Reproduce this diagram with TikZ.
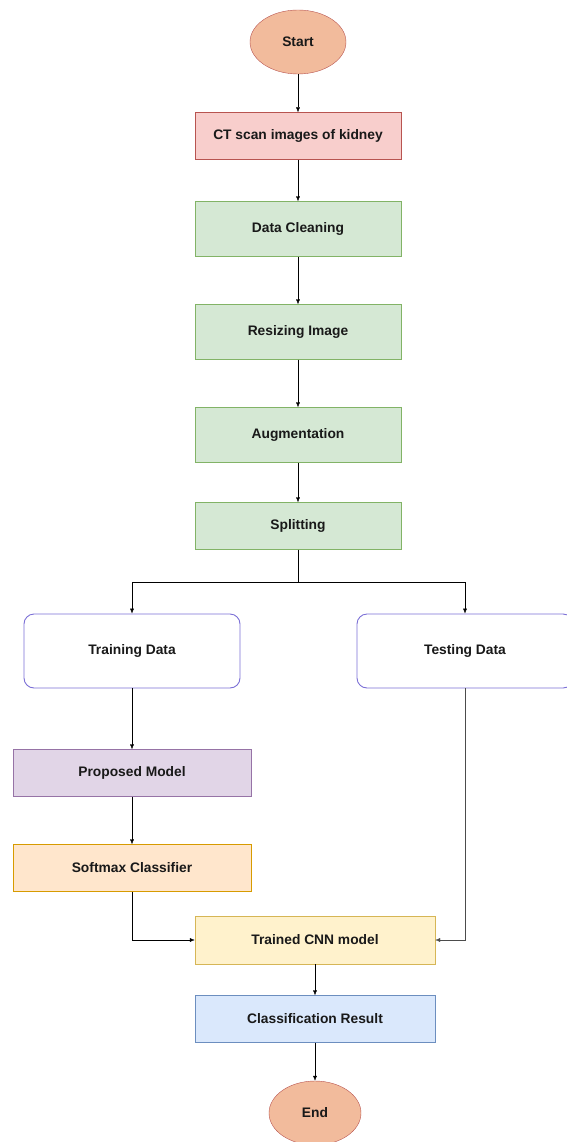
\documentclass[tikz,border=0pt]{standalone}
\usepackage{fontspec}
\setmainfont{Liberation Sans}
\usepackage{tikz}
\usetikzlibrary{shapes, arrows.meta, positioning}
\definecolor{termfill}{HTML}{F2BB9C}
\definecolor{termline}{HTML}{B85450}
\definecolor{redfill}{HTML}{F8CECC}
\definecolor{redline}{HTML}{B85450}
\definecolor{greenfill}{HTML}{D5E8D4}
\definecolor{greenline}{HTML}{82B366}
\definecolor{datline}{HTML}{7B6FD6}
\definecolor{purplefill}{HTML}{E1D5E7}
\definecolor{purpleline}{HTML}{9673A6}
\definecolor{orangefill}{HTML}{FFE6CC}
\definecolor{orangeline}{HTML}{D79B00}
\definecolor{yellowfill}{HTML}{FFF2CC}
\definecolor{yellowline}{HTML}{D6B656}
\definecolor{bluefill}{HTML}{DAE8FC}
\definecolor{blueline}{HTML}{6C8EBF}
\tikzstyle{every node}=[font=\fontsize{13.8}{16}\selectfont\bfseries, text=black!90]
\tikzstyle{term}=[draw=termline,fill=termfill,ellipse,minimum width=96pt,minimum height=64pt]
\tikzstyle{block}=[draw,rectangle,minimum width=206pt,minimum height=50pt]
\tikzstyle{datbox}=[draw=datline,fill=white,rectangle,rounded corners=10pt,line width=0.9pt,minimum width=216pt,minimum height=74pt]
\tikzstyle{wide}=[draw,rectangle,minimum width=238pt,minimum height=47pt]

\begin{document}
\begin{tikzpicture}[node distance=94pt,>={Latex[length=5pt,width=4pt]}]
    \useasboundingbox (0pt,0pt) rectangle (566pt,-1142pt);
    \node[term] (start) at (298pt,-42pt) {Start};
    \node[block, draw=redline, fill=redfill, below of=start, minimum height=47pt] (ct) {CT scan images of kidney};
    \node[block, draw=greenline, fill=greenfill, below of=ct, node distance=93pt, minimum height=55pt] (clean) {Data Cleaning};
    \node[block, draw=greenline, fill=greenfill, below of=clean, node distance=103pt, minimum height=55pt] (resize) {Resizing Image};
    \node[block, draw=greenline, fill=greenfill, below of=resize, node distance=103pt, minimum height=55pt] (aug) {Augmentation};
    \node[block, draw=greenline, fill=greenfill, below of=aug, node distance=91pt, minimum height=47pt] (split) {Splitting};
    \coordinate[below of=split, node distance=56pt] (fork);
    \node[datbox] (train) at (132pt,-651pt) {Training Data};
    \node[datbox] (test) at (465pt,-651pt) {Testing Data};
    \node[wide, draw=purpleline, fill=purplefill, below of=train, node distance=122pt] (model) {Proposed Model};
    \node[wide, draw=orangeline, fill=orangefill, below of=model, node distance=95pt] (soft) {Softmax Classifier};
    \node[wide, draw=yellowline, fill=yellowfill, minimum width=240pt, minimum height=48pt] (cnn) at (315pt,-940pt) {Trained CNN model};
    \node[wide, draw=blueline, fill=bluefill, minimum width=240pt, below of=cnn, node distance=79pt] (res) {Classification Result};
    \node[term, below of=res, node distance=94pt, minimum width=92pt] (end) {End};
    \draw[->] (start) -- (ct);
    \draw[->] (ct) -- (clean);
    \draw[->] (clean) -- (resize);
    \draw[->] (resize) -- (aug);
    \draw[->] (aug) -- (split);
    \draw (split) -- (fork);
    \draw[->] (fork) -| (train);
    \draw[->] (fork) -| (test);
    \draw[->] (train) -- (model);
    \draw[->] (model) -- (soft);
    \draw[->] (soft) |- (cnn);
    \draw[->, black!70] (test) |- (cnn);
    \draw[->] (cnn) -- (res);
    \draw[->] (res) -- (end);
\end{tikzpicture}
\end{document}
